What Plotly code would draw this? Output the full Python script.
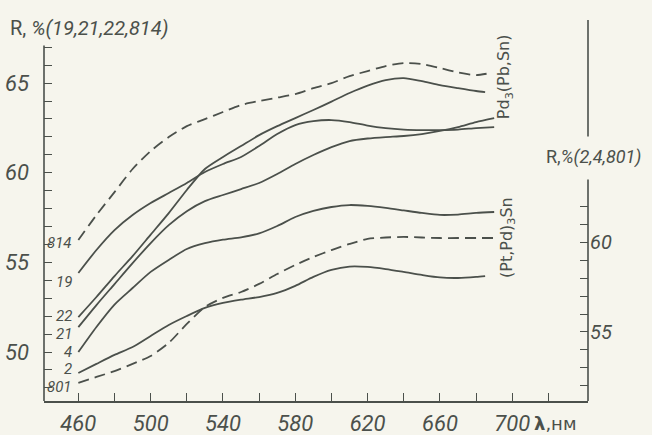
import plotly.graph_objects as go

# ---- data (wavelength, nm ; reflectance R, %) ----
wl_814 = [460, 470, 480, 490, 500, 510, 520, 530, 540, 550, 560, 570, 580, 590, 600, 610, 620, 630, 640, 650, 660, 670, 680, 688]
r_814 = [56.25, 57.64, 58.92, 60.21, 61.21, 61.99, 62.60, 62.99, 63.39, 63.78, 64.00, 64.19, 64.39, 64.72, 65.00, 65.39, 65.67, 65.95, 66.12, 66.06, 65.84, 65.59, 65.45, 65.56]

wl_22 = [460, 470, 480, 490, 500, 510, 520, 530, 540, 550, 560, 570, 580, 590, 600, 610, 620, 630, 640, 650, 660, 670, 680, 685]
r_22 = [51.95, 53.07, 54.24, 55.35, 56.55, 57.75, 59.04, 60.21, 60.88, 61.49, 62.10, 62.60, 63.05, 63.50, 63.97, 64.45, 64.86, 65.17, 65.28, 65.11, 64.89, 64.72, 64.56, 64.50]

wl_19 = [460, 470, 480, 490, 500, 510, 520, 530, 540, 550, 560, 570, 580, 590, 600, 610, 620, 630, 640, 650, 660, 670, 680, 690]
r_19 = [54.41, 55.69, 56.80, 57.64, 58.31, 58.87, 59.43, 60.04, 60.49, 60.88, 61.49, 62.16, 62.66, 62.88, 62.94, 62.83, 62.63, 62.49, 62.41, 62.38, 62.38, 62.41, 62.49, 62.55]

wl_21 = [460, 470, 480, 490, 500, 510, 520, 530, 540, 550, 560, 570, 580, 590, 600, 610, 620, 630, 640, 650, 660, 670, 680, 690]
r_21 = [51.39, 52.62, 53.79, 54.96, 56.08, 57.08, 57.86, 58.42, 58.76, 59.09, 59.43, 59.93, 60.49, 60.99, 61.43, 61.77, 61.91, 61.99, 62.05, 62.16, 62.33, 62.55, 62.83, 63.05]

# right-axis series (2, 4, 801)
wl_4 = [460, 470, 480, 490, 500, 510, 520, 530, 540, 550, 560, 570, 580, 590, 600, 610, 620, 630, 640, 650, 660, 670, 680, 690]
r_4 = [53.88, 55.28, 56.53, 57.45, 58.35, 59.02, 59.63, 59.95, 60.15, 60.28, 60.50, 60.91, 61.41, 61.75, 61.97, 62.08, 62.03, 61.92, 61.78, 61.64, 61.53, 61.55, 61.64, 61.69]

wl_2 = [460, 470, 480, 490, 500, 510, 520, 530, 540, 550, 560, 570, 580, 590, 600, 610, 620, 630, 640, 650, 660, 670, 680, 685]
r_2 = [52.71, 53.22, 53.72, 54.16, 54.78, 55.39, 55.89, 56.34, 56.62, 56.80, 56.95, 57.18, 57.57, 58.07, 58.46, 58.65, 58.63, 58.51, 58.35, 58.18, 58.04, 58.01, 58.07, 58.12]

wl_801 = [460, 470, 480, 490, 500, 510, 520, 530, 540, 550, 560, 570, 580, 590, 600, 610, 620, 630, 640, 650, 660, 670, 680, 690]
r_801 = [52.16, 52.49, 52.82, 53.22, 53.66, 54.39, 55.45, 56.39, 56.90, 57.23, 57.68, 58.23, 58.74, 59.18, 59.57, 59.91, 60.19, 60.27, 60.30, 60.27, 60.24, 60.24, 60.24, 60.24]

x_ticks = [460, 480, 500, 520, 540, 560, 580, 600, 620, 640, 660, 680, 700, 720]
x_labels = ["460", "", "500", "", "540", "", "580", "", "620", "", "660", "", "700", ""]
yl_ticks = list(range(48, 68))
yl_labels = [str(v) if v % 5 == 0 else "" for v in yl_ticks]
yr_ticks = list(range(52, 63))
yr_labels = [str(v) if v % 5 == 0 else "" for v in yr_ticks]

curve_labels = ["814", "19", "22", "21", "4", "2", "801"]
curve_label_y = [56.08, 53.9, 52.0, 51.0, 50.0, 49.05, 48.05]

INK = "#4b504b"
BG = "#f6f5ed"
FONT = "Roboto, DejaVu Sans, sans-serif"


def ital(labels):
    return ["<i>%s</i>" % t if t else "" for t in labels]


fig = go.Figure()


def add(x, y, dashed=False, axis="y"):
    fig.add_trace(go.Scatter(
        x=x, y=y, mode="lines", yaxis=axis, showlegend=False, hoverinfo="skip",
        line=dict(color=INK, width=1.8, shape="spline", smoothing=0.7,
                  dash="11px,6px" if dashed else "solid")))


add(wl_814, r_814, dashed=True)
add(wl_22, r_22)
add(wl_19, r_19)
add(wl_21, r_21)
add(wl_4, r_4, axis="y2")
add(wl_2, r_2, axis="y2")
add(wl_801, r_801, dashed=True, axis="y2")

fig.update_layout(
    width=652, height=435, autosize=False,
    margin=dict(l=44, r=64, t=20, b=34, pad=0, autoexpand=False),
    paper_bgcolor=BG, plot_bgcolor=BG,
    font=dict(family=FONT, color=INK),
    xaxis=dict(range=[441.0, 741.9], showgrid=False, zeroline=False, automargin=False,
               showline=True, linecolor=INK, linewidth=1.6,
               ticks="inside", ticklen=8, tickwidth=1.4, tickcolor=INK,
               tickvals=x_ticks, ticktext=ital(x_labels), ticklabelstandoff=2,
               tickfont=dict(size=22, color=INK)),
    yaxis=dict(range=[47.27, 68.52], showgrid=False, zeroline=False, automargin=False,
               showline=False, ticks="inside", ticklen=8, tickwidth=1.4, tickcolor=INK,
               tickvals=yl_ticks, ticktext=ital(yl_labels), ticklabelstandoff=14,
               tickfont=dict(size=22, color=INK)),
    yaxis2=dict(range=[51.15, 72.40], overlaying="y", side="right", anchor="x", automargin=False,
                showgrid=False, zeroline=False, showline=False,
                ticks="inside", ticklen=8, tickwidth=1.4, tickcolor=INK,
                tickvals=yr_ticks, ticktext=ital(yr_labels), ticklabelstandoff=1,
                tickfont=dict(size=20, color=INK)),
)

# axis lines drawn as shapes (left one is shorter, right one has a gap for its title)
fig.add_shape(type="line", xref="paper", yref="y", x0=0, x1=0, y0=47.27, y1=67.1,
              line=dict(color=INK, width=1.6))
fig.add_shape(type="line", xref="paper", yref="y2", x0=1, x1=1, y0=51.15, y1=63.5,
              line=dict(color=INK, width=1.6))
fig.add_shape(type="line", xref="paper", yref="y2", x0=1, x1=1, y0=65.9, y1=72.4,
              line=dict(color=INK, width=1.6))

# curve numbers near left axis
for t, yv in zip(curve_labels, curve_label_y):
    fig.add_annotation(x=457.5, y=yv, xref="x", yref="y", text="<i>%s</i>" % t, showarrow=False,
                       xanchor="right", yanchor="middle",
                       font=dict(size=15, color=INK, family=FONT))

fig.add_annotation(x=-0.066, y=0.979, xref="paper", yref="paper",
                   text="R, <i>%(19,21,22,814)</i>", showarrow=False, xanchor="left", yanchor="middle",
                   font=dict(size=20, color=INK, family=FONT))
fig.add_annotation(x=1.011, y=0.6404, xref="paper", yref="paper",
                   text="R,<i>%(2,4,801)</i>", showarrow=False, xanchor="center", yanchor="middle",
                   font=dict(size=18, color=INK, family=FONT))
fig.add_annotation(x=0.847, y=0.852, xref="paper", yref="paper",
                   text="Pd<sub>3</sub>(Pb,Sn)", showarrow=False, textangle=-90,
                   xanchor="center", yanchor="middle",
                   font=dict(size=16, color=INK, family="DejaVu Sans, sans-serif"))
fig.add_annotation(x=0.853, y=0.428, xref="paper", yref="paper",
                   text="(Pt,Pd)<sub>3</sub>Sn", showarrow=False, textangle=-90,
                   xanchor="center", yanchor="middle",
                   font=dict(size=16, color=INK, family="DejaVu Sans, sans-serif"))
fig.add_annotation(x=0.897, y=-0.058, xref="paper", yref="paper",
                   text="<b>λ</b>,нм", showarrow=False, xanchor="left", yanchor="middle",
                   font=dict(size=18, color=INK, family="DejaVu Sans, sans-serif"))

fig.write_html("out.html")
